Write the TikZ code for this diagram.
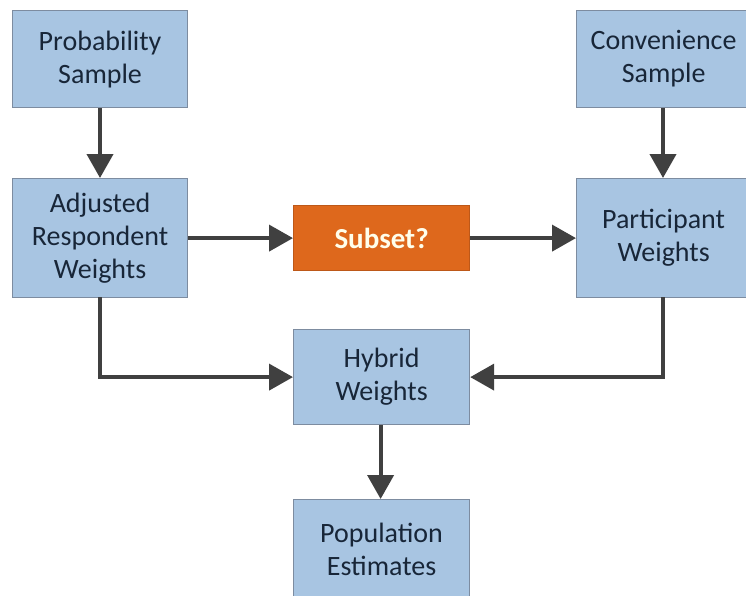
\documentclass[tikz,border=0pt]{standalone}
\usepackage{fontspec}
\setmainfont{Carlito}
\usetikzlibrary{arrows.meta,calc}
\definecolor{boxfill}{RGB}{168,197,226}
\definecolor{boxline}{RGB}{125,140,160}
\definecolor{boxtext}{RGB}{24,38,56}
\definecolor{orangefill}{RGB}{222,104,28}
\definecolor{arrowcol}{RGB}{64,64,64}
\tikzset{
  bluebox/.style={draw=boxline, line width=1.2pt, fill=boxfill, text=boxtext, align=center,
    font=\fontsize{28}{33}\selectfont, inner sep=0pt, anchor=north west},
  orangebox/.style={draw=orangefill!85!black, line width=1.2pt, fill=orangefill, text=white!92!yellow, align=center,
    font=\fontsize{29}{33}\selectfont\bfseries, inner sep=0pt, anchor=north west},
  conn/.style={draw=arrowcol, line width=4pt, -{Triangle[length=24pt,width=26pt]}}
}
\begin{document}
\begin{tikzpicture}[x=1pt,y=-1pt]
\useasboundingbox (0,0) rectangle (746,595);
\fill[white] (0,0) rectangle (746,595);
\node[bluebox, minimum width=175pt, minimum height=97pt] (prob) at (12,10) {Probability\\Sample};
\node[bluebox, minimum width=175pt, minimum height=119pt] (adj) at (12,178) {Adjusted\\Respondent\\Weights};
\node[orangebox, minimum width=176pt, minimum height=65pt] (sub) at (293,205) {Subset?};
\node[bluebox, minimum width=174pt, minimum height=97pt] (conv) at (576,10) {Convenience\\Sample};
\node[bluebox, minimum width=174pt, minimum height=119pt] (part) at (576,178) {Participant\\Weights};
\node[bluebox, minimum width=176pt, minimum height=95pt] (hyb) at (293,329) {Hybrid\\Weights};
\node[bluebox, minimum width=176pt, minimum height=100pt] (pop) at (293,499) {Population\\Estimates};
\coordinate (adjb) at (100,297);
\coordinate (partb) at (663,297);
\draw[conn] (prob.south -| adjb) -- (adj.north -| adjb);
\draw[conn] (conv.south -| partb) -- (part.north -| partb);
\draw[conn] (adj.east) -- (sub.west);
\draw[conn] (sub.east) -- (part.west |- sub.east);
\draw[conn] (adjb) |- (hyb.west);
\draw[conn] (partb) |- (hyb.east);
\draw[conn] ($(hyb.south)+(-1,0)$) -- ($(pop.north)+(-1,0)$);
\end{tikzpicture}
\end{document}
